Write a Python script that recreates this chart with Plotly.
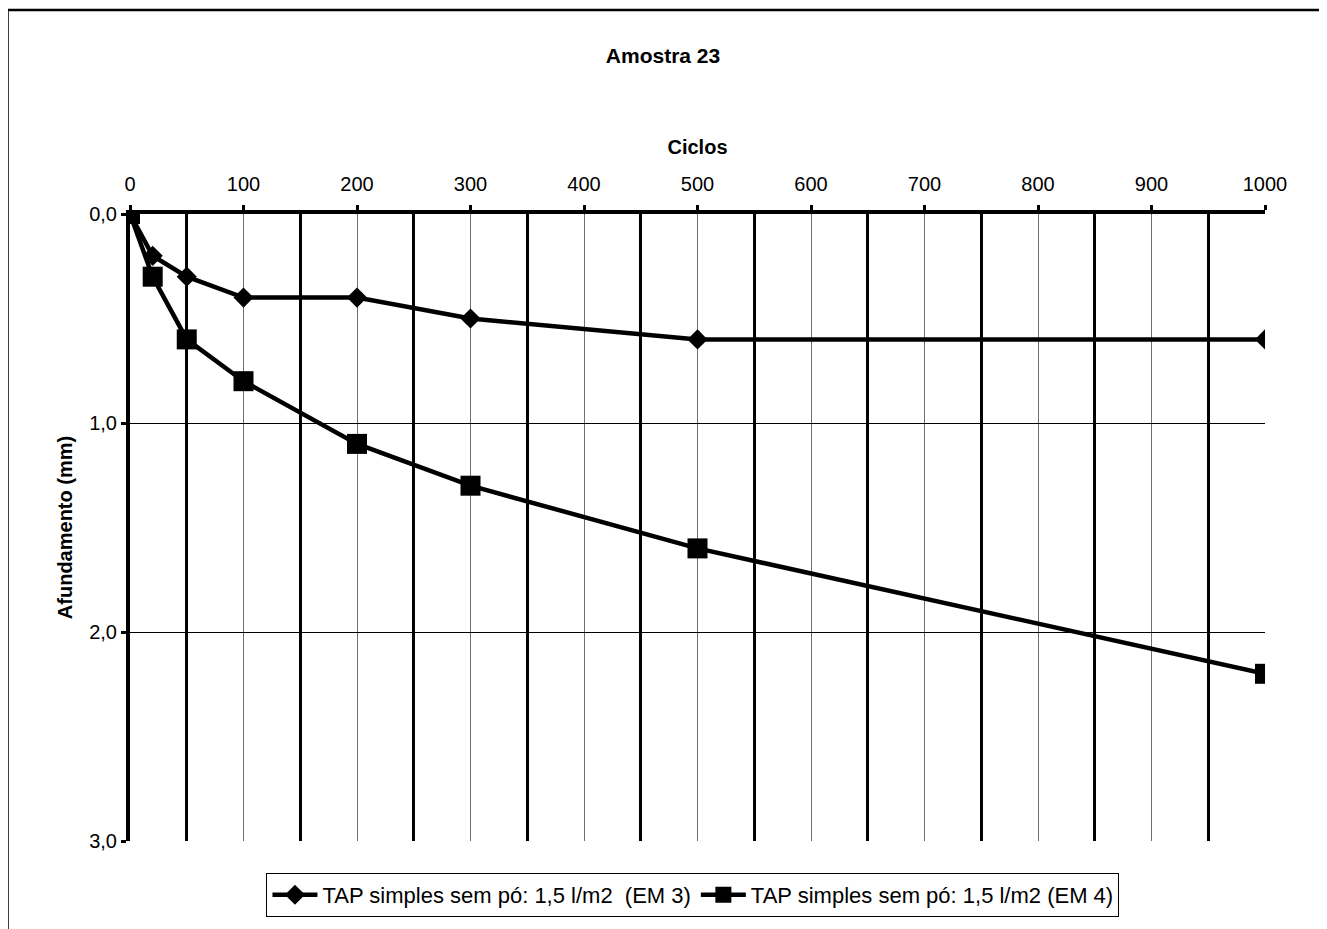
import plotly.graph_objects as go

# ---- data ----
ciclos = [0, 20, 50, 100, 200, 300, 500, 1000]
em3 = [0.0, 0.2, 0.3, 0.4, 0.4, 0.5, 0.6, 0.6]
em4 = [0.0, 0.3, 0.6, 0.8, 1.1, 1.3, 1.6, 2.2]
series_names = ["TAP simples sem pó: 1,5 l/m2  (EM 3)", "TAP simples sem pó: 1,5 l/m2 (EM 4)"]
x_ticks = [0, 100, 200, 300, 400, 500, 600, 700, 800, 900, 1000]
x_minor = [50, 150, 250, 350, 450, 550, 650, 750, 850, 950]
x_major_grid = [100, 200, 300, 400, 500, 600, 700, 800, 900]
y_ticks = [0, 1, 2, 3]
y_ticklabels = ["0,0", "1,0", "2,0", "3,0"]
y_grid = [1, 2]
title = "Amostra 23"
x_title = "Ciclos"
y_title = "Afundamento (mm)"

FONT = "Liberation Sans, Arial, sans-serif"

fig = go.Figure()
# empty trace to create overlay subplot for grid lines
fig.add_trace(go.Scatter(x=[None], y=[None], xaxis="x2", yaxis="y2", showlegend=False, hoverinfo="skip"))
fig.add_trace(go.Scatter(x=ciclos, y=em3, name=series_names[0], mode="lines+markers",
                         line=dict(color="black", width=4.5),
                         marker=dict(symbol="diamond", size=15.5, color="black")))
fig.add_trace(go.Scatter(x=ciclos, y=em4, name=series_names[1], mode="lines+markers",
                         line=dict(color="black", width=4.5),
                         marker=dict(symbol="square", size=20, color="black")))

fig.update_layout(
    width=1327, height=929,
    paper_bgcolor="white", plot_bgcolor="white",
    margin=dict(l=122, r=70, t=206, b=96),
    font=dict(family=FONT, size=20, color="black"),
    title=dict(text=title, x=655 / 1327, xref="container", xanchor="center",
               y=1 - 48 / 929, yref="container", yanchor="middle",
               font=dict(family=FONT, size=21, weight="bold")),
    xaxis=dict(range=[0, 1000], side="top", tickmode="array", tickvals=x_ticks,
               showgrid=False, zeroline=False,
               showline=True, linecolor="black", linewidth=4,
               ticks="outside", ticklen=5, tickwidth=3, tickcolor="black",
               ticklabelstandoff=6,
               minor=dict(tickmode="array", tickvals=x_minor, showgrid=True,
                          gridcolor="black", gridwidth=2.5, ticks=""),
               title=dict(text=x_title, font=dict(family=FONT, size=20, weight="bold"), standoff=14)),
    xaxis2=dict(range=[0, 1000], overlaying="x", side="top", tickmode="array", tickvals=x_major_grid,
                showgrid=True, gridcolor="#707070", gridwidth=1, showticklabels=False,
                ticks="", showline=False, zeroline=False),
    yaxis=dict(range=[3, 0], tickmode="array", tickvals=y_ticks, ticktext=y_ticklabels,
               showgrid=False, zeroline=False,
               showline=True, linecolor="black", linewidth=4,
               ticks="outside", ticklen=5, tickwidth=3, tickcolor="black",
               ticklabelstandoff=0,
               title=dict(text=y_title, font=dict(family=FONT, size=20, weight="bold"), standoff=12)),
    yaxis2=dict(range=[3, 0], overlaying="y", tickmode="array", tickvals=y_grid,
                showgrid=True, gridcolor="black", gridwidth=1, showticklabels=False,
                ticks="", showline=False, zeroline=False),
    legend=dict(orientation="h", x=0.496, xanchor="center", y=-0.051, yanchor="top",
                bordercolor="black", borderwidth=1, bgcolor="white",
                font=dict(family=FONT, size=22),
                tracegroupgap=0, itemwidth=45),
    shapes=[dict(type="rect", xref="paper", yref="paper",
                 x0=(7.5 - 130) / 1135, x1=(1321 - 130) / 1135,
                 y0=-0.3, y1=(841 - 10) / 627,
                 line=dict(color="black", width=2.5), fillcolor="rgba(0,0,0,0)", layer="above")],
)

fig.write_html("out.html")
